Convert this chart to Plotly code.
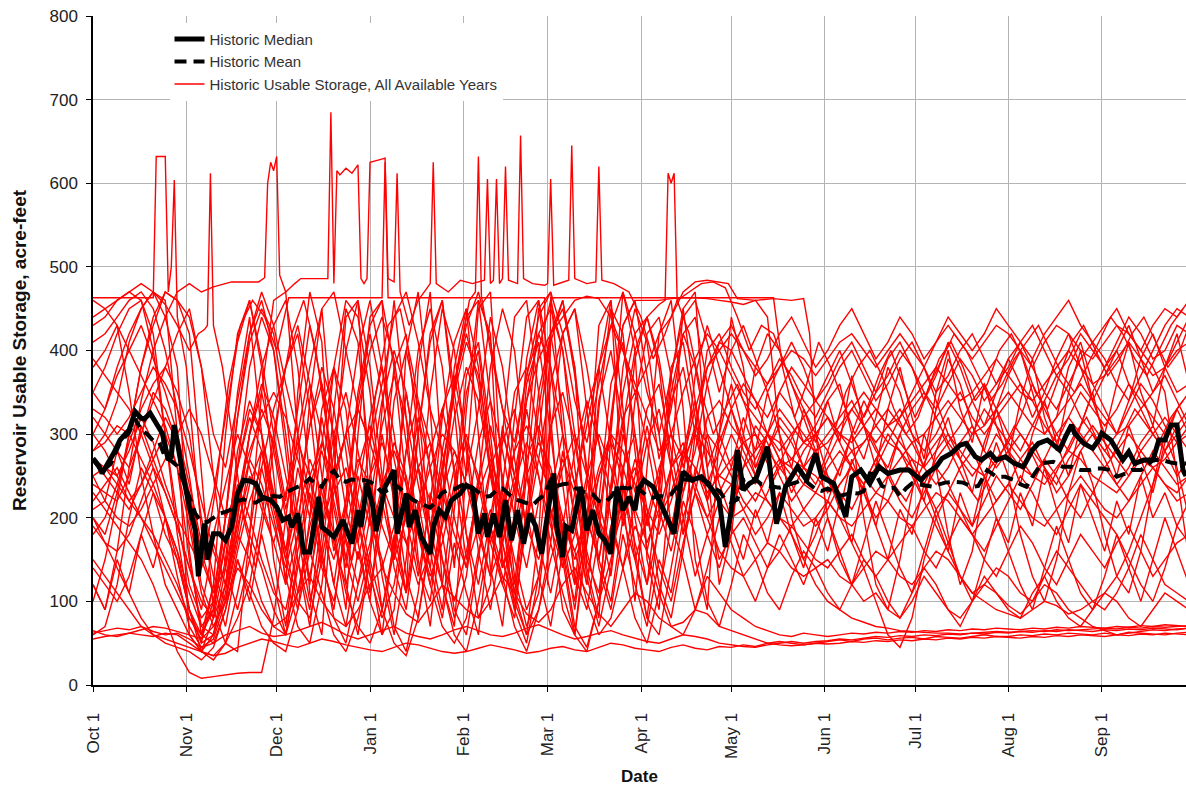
import plotly.graph_objects as go

# ---------------------------------------------------------------------------
# Axis definitions (water year, Oct 1 = day 0)
# ---------------------------------------------------------------------------
MONTH_DAYS = [0, 31, 61, 92, 123, 151, 182, 212, 243, 273, 304, 335]
MONTH_LABELS = ["Oct 1", "Nov 1", "Dec 1", "Jan 1", "Feb 1", "Mar 1",
                "Apr 1", "May 1", "Jun 1", "Jul 1", "Aug 1", "Sep 1"]

# Regular sampling used by most of the yearly traces (every 4th day)
STEP_DAYS = list(range(0, 365, 4))

# ---------------------------------------------------------------------------
# Yearly usable storage (acre-feet), sampled on STEP_DAYS
# ---------------------------------------------------------------------------
YEAR_01 = [280, 300, 340, 410, 450, 470, 440, 380,
           160, 60, 120, 300, 420, 460, 380, 250,
           120, 350, 470, 410, 180, 90, 300,
           440, 460, 200, 110, 380, 470, 260, 140,
           330, 460, 420, 150, 90, 280, 450,
           470, 300, 120, 240, 430, 460, 220, 100,
           260, 420, 460, 330, 150, 90, 300,
           440, 380, 260, 300, 350, 330, 290, 310,
           340, 360, 300, 270, 320, 380, 350,
           300, 260, 330, 390, 360, 310, 280, 330,
           370, 400, 350, 300, 320, 380, 410, 360,
           330, 300, 340, 390, 420, 380, 350, 360]
YEAR_02 = [200, 180, 230, 300, 380, 430, 470, 460,
           420, 250, 90, 50, 40, 180, 350, 460,
           470, 300, 110, 60, 250, 440, 460,
           200, 90, 160, 400, 470, 330, 120, 70,
           260, 450, 470, 230, 110, 60, 180,
           410, 460, 380, 140, 80, 300, 470, 400,
           150, 90, 260, 450, 470, 260, 120,
           180, 300, 380, 420, 400, 360, 330, 300,
           280, 250, 300, 340, 310, 290, 320,
           350, 380, 340, 300, 270, 300, 330, 310,
           290, 320, 360, 330, 300, 280, 310, 350,
           380, 400, 360, 330, 300, 280, 310, 330]
YEAR_03 = [60, 70, 120, 200, 260, 230, 180, 150,
           90, 40, 30, 50, 110, 180, 140, 90,
           60, 140, 230, 160, 80, 50, 120,
           200, 150, 70, 40, 110, 230, 180, 90,
           60, 150, 260, 200, 90, 50, 130,
           210, 160, 70, 45, 100, 190, 240, 150,
           80, 60, 140, 220, 180, 100, 70,
           120, 180, 150, 110, 90, 130, 160, 140,
           110, 90, 120, 150, 130, 100, 80,
           110, 140, 120, 90, 70, 100, 130, 110,
           90, 80, 110, 130, 100, 80, 70, 90,
           110, 100, 80, 70, 90, 110, 100, 90]
YEAR_04 = [55, 58, 60, 62, 60, 58, 62, 60,
           50, 40, 35, 38, 45, 50, 55, 52,
           48, 45, 50, 55, 52, 48, 45,
           42, 40, 45, 50, 48, 44, 40, 38,
           40, 44, 48, 45, 42, 38, 40,
           44, 46, 42, 40, 45, 50, 48, 44,
           42, 40, 45, 48, 44, 42, 46,
           45, 48, 46, 50, 52, 50, 48, 50,
           52, 54, 52, 55, 56, 54, 56,
           57, 55, 58, 57, 56, 58, 60, 58,
           58, 60, 59, 61, 60, 62, 61, 60,
           62, 60, 63, 62, 61, 60, 62, 63]
YEAR_05 = [62, 65, 68, 66, 70, 64, 60, 62,
           55, 45, 50, 60, 65, 70, 62, 58,
           60, 65, 70, 75, 68, 60, 55,
           60, 65, 70, 62, 58, 55, 60, 66,
           70, 65, 60, 58, 62, 68, 72,
           66, 60, 55, 58, 62, 65, 60, 56,
           52, 50, 55, 60, 58, 55, 50,
           48, 46, 45, 48, 50, 52, 50, 52,
           53, 55, 54, 56, 58, 57, 59,
           58, 60, 59, 61, 60, 62, 61, 63,
           62, 64, 63, 65, 64, 66, 65, 64,
           66, 65, 67, 66, 68, 67, 66, 68]
YEAR_06 = [320, 300, 280, 260, 300, 350, 330, 290,
           200, 120, 80, 150, 280, 340, 300, 220,
           150, 90, 200, 330, 380, 280, 170,
           100, 240, 380, 420, 300, 160, 90, 210,
           350, 400, 280, 140, 200, 360, 410,
           300, 180, 90, 200, 340, 400, 310, 200,
           120, 240, 380, 410, 320, 220, 260,
           300, 270, 240, 280, 320, 300, 260, 240,
           270, 300, 330, 310, 280, 260, 300,
           330, 350, 320, 290, 310, 340, 360, 330,
           300, 280, 310, 340, 370, 350, 320, 300,
           280, 300, 330, 360, 340, 310, 290, 300]
YEAR_07 = [430, 440, 460, 470, 460, 420, 300, 180,
           90, 50, 60, 140, 260, 380, 440, 400,
           280, 150, 70, 180, 330, 450, 410,
           260, 130, 60, 150, 300, 420, 460, 330,
           180, 80, 120, 300, 440, 460, 350,
           200, 90, 60, 170, 330, 450, 420, 280,
           160, 230, 350, 420, 380, 300, 240,
           200, 260, 310, 290, 250, 220, 240, 270,
           250, 230, 210, 240, 270, 250, 220,
           200, 230, 260, 240, 210, 190, 220, 250,
           230, 210, 240, 270, 250, 220, 200, 230,
           260, 240, 220, 250, 280, 260, 240, 250]
YEAR_08 = [250, 260, 240, 220, 200, 180, 150, 120,
           80, 60, 50, 90, 160, 220, 260, 200,
           130, 70, 50, 120, 250, 300, 220,
           140, 60, 90, 220, 320, 260, 150, 80,
           130, 240, 310, 250, 130, 70, 110,
           230, 300, 240, 130, 70, 140, 260, 300,
           210, 120, 80, 160, 260, 220, 150,
           180, 200, 170, 140, 160, 190, 170, 150,
           140, 160, 180, 150, 130, 150, 170,
           190, 160, 140, 170, 200, 180, 150, 130,
           160, 190, 170, 140, 120, 150, 180, 160,
           140, 170, 190, 160, 130, 150, 170, 180]
YEAR_09 = [410, 420, 440, 460, 470, 450, 400, 330,
           250, 150, 110, 200, 320, 410, 450, 420,
           330, 200, 120, 240, 380, 460, 440,
           350, 220, 150, 280, 400, 450, 380, 250,
           150, 240, 380, 450, 400, 260, 160,
           300, 420, 450, 330, 200, 130, 250, 390,
           440, 380, 260, 180, 300, 400, 420,
           380, 350, 330, 360, 390, 370, 340, 320,
           350, 380, 400, 370, 340, 360, 390,
           410, 380, 350, 370, 400, 420, 390, 360,
           380, 410, 430, 400, 370, 390, 420, 400,
           380, 410, 440, 420, 390, 400, 430, 420]
YEAR_10 = [230, 210, 190, 170, 150, 120, 80, 40,
           15, 8, 10, 12, 14, 15, 15, 80,
           200, 300, 220, 140, 100, 180, 260,
           310, 240, 160, 110, 190, 280, 330, 260,
           180, 120, 200, 290, 330, 250, 170,
           110, 190, 280, 340, 290, 200, 140, 220,
           290, 330, 260, 180, 230, 300, 280,
           250, 220, 200, 230, 260, 240, 210, 190,
           210, 240, 260, 230, 200, 220, 250,
           270, 240, 210, 230, 260, 280, 250, 220,
           240, 270, 290, 260, 230, 250, 280, 300,
           270, 240, 260, 290, 310, 280, 250, 270]
YEAR_11 = [180, 200, 240, 290, 330, 360, 380, 350,
           300, 200, 130, 100, 180, 270, 330, 290,
           210, 280, 360, 300, 210, 140, 230,
           320, 380, 300, 200, 130, 220, 330, 370,
           290, 190, 130, 240, 350, 380, 300,
           210, 140, 230, 330, 380, 290, 190, 250,
           330, 360, 280, 200, 250, 320, 340,
           310, 290, 270, 300, 330, 310, 290, 280,
           300, 320, 340, 310, 290, 310, 330,
           300, 280, 300, 330, 350, 320, 300, 320,
           340, 360, 340, 310, 290, 320, 350, 330,
           310, 330, 360, 340, 320, 300, 330, 350]
YEAR_12 = [300, 280, 250, 220, 240, 270, 300, 260,
           150, 70, 60, 110, 220, 300, 350, 280,
           200, 110, 170, 290, 380, 330, 200,
           110, 200, 340, 400, 330, 190, 120, 230,
           370, 410, 300, 170, 110, 210, 350,
           420, 330, 190, 120, 220, 360, 410, 300,
           190, 250, 340, 380, 300, 240, 280,
           330, 360, 340, 300, 270, 250, 280, 300,
           320, 290, 260, 240, 270, 300, 280,
           250, 220, 190, 160, 130, 110, 100, 90,
           85, 80, 90, 100, 95, 85, 90, 100,
           110, 130, 160, 200, 240, 280, 300, 320]
YEAR_13 = [100, 150, 220, 300, 380, 440, 470, 460,
           440, 380, 250, 140, 90, 150, 260, 330,
           380, 420, 330, 200, 120, 220, 350,
           430, 460, 380, 240, 140, 100, 220, 360,
           440, 460, 340, 200, 120, 250, 400,
           460, 400, 260, 150, 110, 230, 380, 450,
           410, 300, 190, 250, 370, 430, 380,
           330, 290, 260, 280, 310, 290, 260, 250,
           230, 260, 280, 250, 230, 250, 270,
           290, 260, 240, 260, 290, 310, 280, 260,
           280, 300, 280, 260, 240, 270, 290, 310,
           290, 270, 250, 280, 300, 320, 300, 280]
YEAR_14 = [390, 370, 350, 330, 300, 260, 200, 130,
           70, 45, 55, 100, 200, 300, 380, 430,
           460, 380, 250, 150, 90, 200, 340,
           420, 350, 230, 130, 80, 180, 320, 410,
           450, 380, 260, 150, 100, 190, 330,
           420, 450, 380, 250, 150, 100, 200, 340,
           420, 440, 370, 260, 310, 380, 400,
           420, 400, 380, 360, 380, 400, 390, 370,
           390, 410, 420, 400, 380, 400, 420,
           400, 380, 410, 430, 410, 390, 410, 430,
           420, 400, 380, 410, 430, 420, 400, 390,
           410, 430, 420, 400, 380, 350, 250, 150]
YEAR_15 = [150, 130, 110, 90, 70, 60, 55, 50,
           45, 40, 60, 120, 180, 150, 100, 70,
           60, 110, 190, 240, 180, 110, 70,
           50, 90, 170, 230, 190, 120, 70, 50,
           80, 160, 210, 170, 100, 60, 90,
           150, 200, 160, 100, 60, 80, 140, 190,
           160, 110, 70, 60, 90, 130, 110,
           90, 80, 70, 65, 60, 58, 62, 60,
           58, 60, 62, 61, 63, 62, 64,
           63, 65, 64, 66, 65, 67, 66, 68,
           67, 66, 68, 67, 69, 68, 70, 69,
           68, 70, 69, 71, 70, 72, 71, 70]
YEAR_16 = [270, 260, 250, 280, 320, 290, 240, 200,
           170, 140, 180, 240, 300, 260, 210, 170,
           230, 290, 250, 190, 150, 210, 270,
           240, 190, 150, 200, 260, 290, 230, 180,
           140, 190, 260, 300, 250, 190, 150,
           200, 260, 300, 250, 200, 160, 210, 270,
           240, 200, 230, 280, 260, 230, 250,
           270, 290, 300, 280, 260, 270, 290, 300,
           320, 300, 280, 290, 310, 330, 310,
           290, 300, 320, 340, 320, 300, 310, 330,
           350, 330, 310, 300, 320, 340, 360, 340,
           320, 300, 310, 330, 350, 370, 340, 310]
YEAR_17 = [350, 380, 420, 450, 460, 400, 300, 200,
           120, 80, 100, 200, 320, 420, 460, 400,
           300, 180, 100, 160, 280, 400, 460,
           380, 250, 140, 90, 200, 350, 450, 400,
           280, 160, 90, 180, 320, 440, 460,
           380, 240, 130, 90, 180, 320, 430, 460,
           460, 460, 462, 463, 463, 462, 460,
           458, 455, 460, 440, 300, 200, 150, 180,
           220, 260, 300, 200, 120, 90, 150,
           230, 300, 260, 180, 120, 160, 240, 290,
           250, 180, 130, 100, 150, 230, 280, 240,
           180, 130, 110, 160, 240, 300, 260, 200]
YEAR_18 = [210, 220, 200, 190, 210, 240, 270, 300,
           330, 300, 250, 200, 230, 280, 320, 350,
           320, 270, 220, 190, 240, 300, 330,
           290, 240, 200, 170, 210, 260, 300, 280,
           240, 200, 170, 220, 280, 310, 270,
           230, 190, 160, 200, 260, 300, 280, 240,
           210, 180, 220, 270, 300, 280, 250,
           240, 260, 280, 300, 290, 270, 260, 280,
           290, 310, 330, 350, 330, 310, 320,
           340, 360, 380, 360, 340, 350, 370, 390,
           370, 350, 340, 360, 380, 400, 380, 360,
           370, 390, 410, 390, 370, 380, 400, 410]
YEAR_19 = [330, 320, 300, 320, 350, 380, 360, 330,
           280, 220, 160, 120, 200, 300, 360, 320,
           250, 180, 130, 210, 300, 350, 280,
           200, 140, 190, 280, 340, 290, 210, 150,
           200, 290, 340, 280, 200, 140, 220,
           310, 350, 290, 200, 150, 230, 320, 350,
           290, 210, 160, 230, 310, 290, 220,
           200, 210, 230, 220, 200, 190, 210, 230,
           220, 200, 190, 210, 230, 220, 200,
           190, 210, 230, 220, 200, 180, 200, 220,
           240, 220, 200, 190, 210, 230, 250, 230,
           210, 200, 220, 240, 260, 240, 220, 230]
YEAR_20 = [240, 230, 220, 250, 300, 340, 310, 260,
           190, 110, 70, 100, 170, 240, 280, 230,
           160, 100, 80, 150, 230, 260, 200,
           130, 80, 120, 210, 260, 220, 150, 100,
           160, 230, 270, 220, 150, 90, 130,
           220, 270, 230, 160, 100, 150, 230, 260,
           200, 140, 100, 170, 230, 200, 160,
           140, 130, 150, 170, 160, 140, 130, 140,
           150, 130, 120, 140, 160, 150, 130,
           120, 140, 160, 150, 130, 110, 120, 140,
           130, 110, 100, 120, 110, 90, 80, 70,
           65, 60, 62, 64, 66, 65, 67, 68]
YEAR_21 = [440, 450, 460, 470, 480, 470, 460, 300,
           60, 40, 35, 50, 80, 120, 200, 300,
           380, 430, 360, 250, 160, 220, 330,
           400, 440, 390, 290, 190, 140, 250, 360,
           420, 360, 250, 170, 230, 340, 420,
           450, 400, 300, 200, 150, 240, 350, 420,
           440, 390, 300, 230, 280, 360, 410,
           400, 370, 340, 320, 350, 380, 360, 340,
           360, 390, 410, 380, 350, 370, 400,
           380, 350, 330, 360, 390, 370, 340, 360,
           390, 410, 380, 350, 330, 360, 390, 410,
           390, 360, 340, 370, 400, 430, 450, 440]
YEAR_22 = [190, 170, 160, 180, 220, 260, 230, 190,
           140, 100, 80, 120, 190, 250, 220, 170,
           120, 180, 250, 290, 240, 170, 120,
           170, 240, 280, 240, 180, 130, 170, 240,
           290, 250, 190, 140, 180, 250, 290,
           260, 200, 150, 190, 250, 290, 260, 210,
           170, 210, 260, 280, 240, 200, 230,
           260, 240, 220, 250, 270, 260, 240, 230,
           260, 280, 260, 240, 260, 290, 280,
           260, 240, 270, 290, 270, 250, 270, 300,
           280, 260, 250, 270, 300, 320, 300, 280,
           260, 280, 300, 280, 260, 270, 290, 310]
YEAR_23 = [280, 290, 310, 300, 270, 240, 200, 160,
           110, 70, 90, 170, 260, 320, 280, 210,
           150, 220, 310, 360, 300, 210, 150,
           220, 310, 370, 320, 240, 170, 230, 320,
           380, 340, 260, 190, 250, 340, 390,
           420, 440, 460, 465, 462, 440, 400, 360,
           320, 280, 300, 350, 390, 420, 400,
           370, 340, 320, 300, 280, 300, 320, 340,
           320, 300, 290, 310, 330, 310, 290,
           270, 260, 280, 300, 280, 260, 250, 270,
           290, 270, 250, 240, 260, 280, 270, 250,
           240, 230, 250, 270, 260, 240, 230, 250]
YEAR_24 = [65, 60, 58, 62, 66, 70, 68, 64,
           60, 55, 70, 100, 140, 120, 90, 70,
           80, 110, 130, 100, 80, 70, 90,
           120, 140, 110, 85, 75, 95, 120, 105,
           90, 80, 100, 130, 110, 85, 75,
           90, 120, 140, 110, 85, 70, 90, 110,
           100, 80, 70, 75, 90, 85, 70,
           65, 60, 55, 50, 48, 47, 48, 50,
           49, 50, 52, 51, 53, 52, 54,
           53, 55, 54, 56, 55, 57, 56, 58,
           57, 56, 58, 57, 59, 58, 60, 59,
           58, 60, 59, 61, 60, 62, 61, 60]
YEAR_25 = [120, 90, 150, 110, 180, 140, 200, 160,
           90, 50, 120, 70, 150, 100, 180, 120,
           60, 150, 90, 200, 120, 70, 160,
           100, 60, 180, 110, 220, 140, 80, 170,
           110, 60, 190, 120, 80, 210, 130,
           70, 160, 100, 230, 140, 90, 180, 120,
           70, 150, 110, 200, 130, 180, 140,
           190, 150, 210, 170, 230, 180, 140, 200,
           160, 220, 170, 240, 190, 150, 210,
           180, 240, 200, 160, 230, 190, 250, 200,
           170, 230, 190, 260, 210, 170, 240, 200,
           160, 220, 180, 250, 200, 230, 190, 170]
YEAR_26 = [250, 220, 280, 240, 310, 270, 230, 190,
           140, 90, 170, 120, 230, 180, 280, 220,
           160, 260, 200, 320, 240, 150, 250,
           190, 300, 220, 350, 260, 170, 280, 200,
           140, 250, 180, 310, 230, 330, 250,
           170, 280, 200, 120, 220, 160, 300, 230,
           310, 240, 180, 280, 340, 260, 300,
           260, 320, 280, 350, 300, 260, 330, 290,
           340, 290, 370, 310, 260, 330, 380,
           320, 270, 350, 400, 330, 290, 360, 310,
           270, 340, 390, 320, 280, 350, 400, 340,
           300, 360, 410, 350, 310, 380, 420, 360]
YEAR_27 = [380, 400, 430, 350, 250, 180, 120, 90,
           60, 40, 80, 200, 350, 440, 300, 150,
           70, 180, 340, 450, 280, 120, 60,
           150, 330, 460, 320, 150, 70, 200, 380,
           450, 300, 140, 70, 210, 390, 460,
           320, 150, 60, 190, 380, 460, 330, 160,
           80, 200, 370, 450, 340, 220, 300,
           360, 300, 250, 220, 200, 180, 150, 120,
           100, 90, 80, 75, 70, 68, 65,
           64, 63, 62, 62, 61, 62, 63, 64,
           63, 64, 65, 64, 66, 65, 66, 67,
           68, 67, 69, 68, 70, 69, 70, 71]
YEAR_28 = [350, 330, 370, 400, 430, 390, 350, 300,
           240, 170, 230, 320, 410, 460, 390, 300,
           220, 330, 430, 360, 250, 300, 400,
           460, 380, 270, 200, 300, 410, 460, 350,
           250, 330, 440, 380, 270, 190, 300,
           420, 460, 370, 260, 200, 310, 430, 460,
           370, 270, 330, 420, 440, 360, 290,
           330, 280, 250, 300, 270, 230, 260, 300,
           250, 210, 270, 230, 190, 250, 300,
           260, 220, 280, 320, 270, 230, 290, 330,
           280, 240, 300, 340, 290, 250, 310, 350,
           290, 250, 310, 270, 230, 290, 330, 300]
YEAR_29 = [200, 170, 140, 110, 80, 60, 50, 45,
           40, 30, 45, 90, 150, 110, 70, 50,
           40, 90, 160, 110, 60, 40, 80,
           150, 90, 50, 35, 80, 170, 120, 60,
           40, 100, 180, 130, 70, 40, 90,
           170, 110, 60, 40, 100, 190, 140, 80,
           50, 110, 190, 150, 90, 140, 200,
           170, 130, 100, 140, 180, 150, 120, 160,
           200, 160, 120, 170, 220, 180, 140,
           110, 160, 210, 170, 130, 100, 150, 200,
           160, 120, 90, 140, 190, 150, 110, 90,
           130, 180, 140, 100, 150, 200, 160, 120]
YEAR_30 = [460, 450, 430, 400, 370, 340, 380, 420,
           450, 380, 300, 260, 340, 420, 470, 430,
           360, 300, 380, 450, 470, 400, 330,
           290, 360, 440, 470, 410, 330, 280, 360,
           430, 470, 410, 330, 290, 370, 440,
           470, 420, 340, 290, 360, 430, 470, 420,
           350, 300, 370, 440, 460, 410, 350,
           400, 430, 390, 350, 380, 410, 380, 340,
           370, 400, 360, 320, 350, 390, 410,
           380, 340, 370, 410, 380, 340, 310, 350,
           390, 360, 320, 350, 390, 420, 380, 340,
           370, 400, 430, 390, 350, 380, 410, 440]
YEAR_31 = [220, 240, 260, 230, 200, 170, 140, 110,
           80, 55, 100, 170, 240, 200, 150, 110,
           90, 160, 240, 280, 220, 150, 100,
           160, 230, 290, 250, 180, 120, 190, 260,
           300, 240, 170, 120, 190, 270, 310,
           250, 180, 120, 170, 250, 300, 240, 170,
           120, 190, 260, 290, 230, 180, 220,
           240, 210, 180, 200, 230, 210, 190, 200,
           220, 200, 170, 140, 100, 60, 45,
           80, 150, 200, 230, 210, 180, 160, 190,
           220, 250, 230, 200, 180, 210, 240, 220,
           200, 180, 150, 120, 100, 140, 190, 220]
YEAR_32 = [270, 250, 230, 210, 240, 280, 320, 290,
           230, 160, 110, 140, 210, 270, 240, 190,
           140, 200, 270, 230, 170, 120, 180,
           250, 290, 240, 170, 120, 160, 230, 280,
           240, 180, 130, 170, 240, 290, 250,
           190, 140, 180, 250, 300, 260, 200, 150,
           200, 260, 300, 270, 330, 380, 410,
           430, 400, 370, 390, 420, 440, 410, 380,
           400, 430, 450, 420, 390, 410, 440,
           420, 390, 410, 440, 420, 400, 420, 450,
           430, 410, 390, 420, 440, 460, 430, 410,
           430, 450, 420, 400, 430, 450, 440, 460]

# ---------------------------------------------------------------------------
# Wet years recorded on irregular days (flood spikes above full pool)
# ---------------------------------------------------------------------------
WET_A_DAYS = [0, 20, 21, 24, 25, 26, 27, 28, 31, 34, 37, 41, 45, 49, 53, 57,
              61, 65, 96, 97, 98, 150, 151, 152, 226, 229, 233, 237, 241, 245,
              249, 253, 257, 261, 265, 269, 273, 277, 281, 285, 289, 293, 297,
              301, 305, 309, 313, 317, 321, 325, 329, 333, 337, 341, 345, 349,
              353, 357, 361, 364]
WET_A_VALS = [463, 463, 632, 632, 470, 500, 604, 440, 380, 260, 150, 240, 360,
              430, 460, 440, 400, 463, 463, 625, 463, 463, 120, 463, 463, 380,
              320, 360, 410, 380, 340, 300, 330, 370, 400, 360, 320, 350, 390,
              410, 380, 340, 360, 400, 420, 390, 350, 330, 370, 410, 430, 400,
              370, 390, 420, 440, 410, 380, 400, 430]

WET_B_DAYS = [0, 4, 8, 12, 16, 20, 24, 28, 32, 36, 40, 44, 46, 55, 57, 58, 59,
              60, 61, 62, 64, 67, 69, 78, 79, 80, 81, 82, 84, 86, 88, 89, 90,
              91, 92, 95, 97, 98, 100, 101, 102, 105, 108, 112, 113, 114, 118,
              122, 126, 130, 131, 132, 133, 134, 135, 136, 137, 138, 141, 142,
              143, 146, 150, 151, 152, 153, 156, 158, 159, 160, 164, 167, 168,
              169, 173, 178, 182, 186, 190, 194, 198, 202, 206, 210, 214, 218,
              222, 226, 230, 234, 238, 242, 246, 250, 254, 258, 262, 266, 270,
              274, 278, 282, 286, 290, 294, 298, 302, 306, 310, 314, 318, 322,
              326, 330, 334, 338, 342, 346, 350, 354, 358, 362]
WET_B_VALS = [120, 90, 160, 260, 340, 400, 440, 470, 480, 470, 476, 480, 482,
              482, 487, 600, 625, 615, 632, 490, 470, 480, 486, 486, 685, 480,
              615, 610, 618, 612, 622, 486, 480, 486, 625, 628, 630, 486, 482,
              612, 470, 430, 460, 480, 625, 480, 470, 484, 480, 484, 605, 480,
              484, 605, 480, 486, 620, 484, 480, 657, 486, 480, 478, 480, 605,
              478, 482, 484, 645, 486, 480, 482, 620, 484, 480, 470, 440, 390,
              420, 460, 470, 480, 482, 475, 440, 400, 430, 420, 380, 340, 300,
              260, 300, 350, 380, 400, 370, 330, 300, 320, 360, 390, 420, 400,
              370, 340, 360, 390, 410, 430, 400, 370, 350, 380, 410, 440, 420,
              390, 370, 400, 430, 450]

WET_C_DAYS = [0, 4, 8, 12, 16, 20, 24, 28, 32, 35, 37, 38, 39, 40, 43, 46, 50,
              54, 58, 62, 66, 70, 74, 78, 82, 86, 90, 94, 98, 102, 106, 110,
              114, 118, 122, 125, 127, 128, 129, 132, 136, 140, 144, 148, 152,
              156, 160, 164, 168, 172, 176, 180, 184, 188, 190, 191, 192, 193,
              194, 198, 202, 206, 210, 214, 218, 222, 226, 230, 234, 238, 242,
              246, 250, 254, 258, 262, 266, 270, 274, 278, 282, 286, 290, 294,
              298, 302, 306, 310, 314, 318, 322, 326, 330, 334, 338, 342, 346,
              350, 354, 358, 362]
WET_C_VALS = [300, 330, 380, 420, 450, 470, 455, 430, 400, 420, 425, 430, 612,
              430, 380, 300, 200, 140, 230, 340, 420, 460, 400, 300, 200, 150,
              240, 350, 430, 450, 380, 300, 220, 300, 400, 460, 470, 632, 465,
              400, 330, 250, 190, 270, 360, 420, 450, 380, 290, 230, 310, 400,
              440, 455, 460, 612, 600, 612, 460, 420, 350, 300, 330, 360, 320,
              280, 250, 280, 310, 290, 260, 230, 250, 280, 300, 270, 240, 220,
              250, 280, 300, 270, 240, 220, 250, 280, 310, 290, 260, 240, 270,
              300, 320, 290, 270, 300, 330, 310, 290, 320, 340]

WET_D_DAYS = [0, 4, 8, 12, 16, 20, 24, 28, 32, 36, 40, 44, 48, 52, 56, 60, 64,
              68, 72, 76, 80, 84, 88, 92, 96, 100, 104, 108, 112, 116, 120,
              124, 128, 132, 136, 140, 144, 148, 152, 156, 160, 164, 168, 172,
              176, 180, 184, 188, 192, 196, 200, 204, 208, 211, 214, 220, 226,
              232, 236, 238, 240, 244, 248, 252, 256, 260, 264, 268, 272, 276,
              280, 284, 288, 292, 296, 300, 304, 308, 312, 316, 320, 324, 328,
              332, 336, 340, 344, 348, 352, 356, 360, 364]
WET_D_VALS = [140, 120, 100, 130, 180, 230, 200, 150, 90, 60, 90, 170, 260,
              330, 300, 230, 160, 220, 310, 380, 330, 240, 170, 250, 340, 400,
              350, 260, 190, 260, 350, 410, 370, 280, 210, 280, 370, 420, 380,
              300, 240, 310, 380, 430, 400, 350, 380, 420, 440, 470, 482, 484,
              482, 480, 462, 460, 462, 460, 462, 420, 300, 200, 150, 120, 100,
              110, 90, 80, 100, 130, 110, 90, 80, 100, 120, 110, 95, 85, 100,
              130, 160, 140, 120, 100, 90, 110, 140, 180, 150, 120, 110, 100]

# ---------------------------------------------------------------------------
# Historic median and mean of usable storage
# ---------------------------------------------------------------------------
MEDIAN_DAYS = [0, 2, 3, 5, 7, 9, 12, 14, 16, 17, 19, 21, 23, 25, 26, 27, 28,
               29, 30, 32, 34, 35, 37, 38, 40, 42, 44, 46, 48, 50, 52, 54, 56,
               59, 61, 63, 65, 66, 68, 70, 72, 75, 76, 80, 83, 86, 88, 89, 91,
               93, 94, 97, 100, 101, 104, 105, 107, 109, 112, 113, 115, 117,
               119, 122, 124, 126, 128, 130, 131, 133, 135, 137, 139, 141, 143,
               145, 147, 149, 151, 153, 154, 156, 157, 159, 162, 164, 166, 168,
               170, 172, 174, 176, 178, 180, 181, 183, 186, 189, 193, 195, 196,
               199, 202, 205, 208, 210, 212, 214, 216, 218, 220, 224, 227, 230,
               234, 237, 240, 242, 246, 250, 252, 255, 258, 261, 264, 268, 271,
               275, 277, 280, 282, 285, 288, 290, 293, 295, 298, 300, 303, 306,
               309, 312, 314, 317, 319, 321, 323, 325, 326, 329, 332, 334, 335,
               338, 340, 342, 344, 346, 349, 352, 354, 356, 358, 360, 362, 363]
MEDIAN_VALS = [271, 262, 253, 265, 278, 293, 305, 327, 319, 318, 325, 313, 301,
               269, 273, 311, 290, 265, 249, 213, 185, 130, 193, 150, 181, 181,
               173, 189, 229, 245, 244, 241, 225, 221, 213, 197, 201, 189, 205,
               159, 159, 225, 189, 177, 197, 169, 209, 189, 241, 213, 184, 237,
               257, 181, 229, 189, 209, 177, 157, 189, 209, 201, 221, 229, 239,
               235, 181, 205, 177, 205, 177, 221, 173, 209, 169, 205, 190, 157,
               205, 253, 190, 153, 190, 185, 237, 185, 209, 181, 173, 157, 237,
               209, 225, 209, 233, 245, 237, 213, 181, 237, 255, 245, 249, 237,
               221, 165, 209, 281, 233, 241, 245, 285, 193, 237, 261, 245, 277,
               249, 241, 201, 249, 257, 241, 261, 253, 257, 257, 245, 253, 261,
               271, 277, 287, 289, 273, 269, 277, 269, 273, 265, 261, 281, 289,
               293, 287, 281, 297, 311, 301, 289, 283, 293, 301, 293, 281, 269,
               279, 265, 269, 269, 293, 293, 311, 311, 257, 250]

MEAN_DAYS = [0, 3, 6, 9, 12, 14, 16, 18, 20, 22, 24, 26, 28, 30, 32, 34, 36,
             38, 40, 42, 44, 46, 48, 50, 52, 54, 56, 58, 60, 62, 64, 66, 68, 70,
             72, 74, 76, 78, 80, 82, 84, 86, 88, 90, 92, 94, 96, 98, 100, 102,
             104, 106, 108, 110, 112, 114, 116, 118, 120, 122, 124, 126, 128,
             130, 132, 134, 136, 138, 140, 142, 144, 146, 148, 150, 152, 154,
             156, 158, 160, 162, 164, 166, 168, 170, 172, 174, 176, 178, 180,
             182, 184, 186, 188, 190, 192, 194, 196, 198, 200, 202, 204, 206,
             208, 210, 212, 214, 216, 218, 220, 222, 224, 226, 228, 230, 232,
             234, 236, 238, 240, 242, 244, 246, 248, 250, 252, 254, 256, 258,
             260, 262, 264, 266, 268, 270, 272, 274, 277, 279, 281, 283, 286,
             289, 292, 294, 297, 300, 303, 306, 308, 310, 312, 315, 317, 319,
             322, 325, 328, 331, 333, 335, 338, 340, 343, 345, 348, 350, 352,
             355, 358, 360, 363]
MEAN_VALS = [270, 255, 265, 290, 302, 318, 305, 300, 292, 290, 272, 268, 262,
             245, 225, 205, 195, 195, 200, 205, 207, 210, 220, 222, 219, 218,
             222, 225, 226, 225, 230, 234, 237, 240, 247, 240, 237, 250, 256,
             245, 243, 246, 244, 245, 243, 238, 230, 233, 240, 235, 228, 222,
             218, 215, 212, 220, 230, 233, 234, 238, 241, 236, 230, 225, 226,
             233, 235, 228, 222, 220, 218, 215, 222, 228, 245, 238, 240, 241,
             236, 232, 230, 228, 220, 218, 225, 235, 236, 235, 240, 232, 226,
             224, 226, 225, 228, 238, 246, 245, 244, 246, 243, 236, 232, 222,
             218, 222, 245, 247, 246, 240, 238, 237, 236, 238, 240, 243, 246,
             240, 234, 232, 235, 230, 226, 228, 230, 229, 232, 253, 252, 238,
             235, 236, 226, 235, 241, 240, 238, 237, 240, 242, 243, 242, 237,
             238, 257, 249, 249, 245, 240, 237, 249, 265, 266, 267, 261, 261,
             257, 257, 259, 259, 257, 249, 253, 257, 257, 262, 269, 269, 266,
             265, 265]

RED = "#ff0000"
FONT = "Liberation Sans, Arial, sans-serif"

fig = go.Figure()

step_years = [YEAR_01, YEAR_02, YEAR_03, YEAR_04, YEAR_05, YEAR_06, YEAR_07,
              YEAR_08, YEAR_09, YEAR_10, YEAR_11, YEAR_12, YEAR_13, YEAR_14,
              YEAR_15, YEAR_16, YEAR_17, YEAR_18, YEAR_19, YEAR_20, YEAR_21,
              YEAR_22, YEAR_23, YEAR_24, YEAR_25, YEAR_26, YEAR_27, YEAR_28,
              YEAR_29, YEAR_30, YEAR_31, YEAR_32]
irregular_years = [(WET_A_DAYS, WET_A_VALS), (WET_B_DAYS, WET_B_VALS),
                   (WET_C_DAYS, WET_C_VALS), (WET_D_DAYS, WET_D_VALS)]

all_years = [(STEP_DAYS, v) for v in step_years] + irregular_years
for i, (days, vals) in enumerate(all_years):
    fig.add_trace(go.Scatter(
        x=days, y=vals, mode="lines",
        line=dict(color=RED, width=1.4),
        name="Historic Usable Storage, All Available Years",
        showlegend=(i == 0), legendrank=3, hoverinfo="skip"))

fig.add_trace(go.Scatter(
    x=MEAN_DAYS, y=MEAN_VALS, mode="lines",
    line=dict(color="black", width=4, dash="12px,7px"),
    name="Historic Mean", legendrank=2))
fig.add_trace(go.Scatter(
    x=MEDIAN_DAYS, y=MEDIAN_VALS, mode="lines",
    line=dict(color="black", width=5),
    name="Historic Median", legendrank=1))

GRID = "#b4b4b4"
fig.update_layout(
    width=1186, height=790,
    margin=dict(l=93, r=0, t=16, b=105),
    plot_bgcolor="white", paper_bgcolor="white",
    font=dict(family=FONT, color="#222222"),
    legend=dict(x=0.07, y=0.99, xanchor="left", yanchor="top",
                bgcolor="white", borderwidth=0,
                font=dict(family=FONT, size=15, color="#333333")),
    xaxis=dict(
        range=[0, 363], tickmode="array", tickvals=MONTH_DAYS,
        ticktext=MONTH_LABELS, tickangle=-90,
        tickfont=dict(size=17, color="#222222"),
        showgrid=True, gridcolor=GRID, gridwidth=1,
        showline=True, linecolor="black", linewidth=2,
        ticks="outside", ticklen=5, tickcolor="black",
        ticklabelstandoff=14, zeroline=False,
        title=dict(text="<b>Date</b>", font=dict(size=17, color="#111111"),
                   standoff=12),
        automargin=False),
    yaxis=dict(
        range=[0, 800], tickmode="linear", tick0=0, dtick=100,
        tickfont=dict(size=17, color="#222222"),
        showgrid=True, gridcolor=GRID, gridwidth=1,
        showline=True, linecolor="black", linewidth=1.5,
        ticks="outside", ticklen=5, tickcolor="black",
        ticklabelstandoff=5, zeroline=False,
        title=dict(text="<b>Reservoir Usable Storage, acre-feet</b>",
                   font=dict(size=19, color="#111111"), standoff=18),
        automargin=False),
    xaxis2=dict(
        overlaying="x", anchor="y", side="bottom", range=[0, 363],
        tickmode="array", tickvals=MONTH_DAYS, showticklabels=False,
        ticks="inside", ticklen=5, tickcolor="black",
        showgrid=False, showline=False, zeroline=False),
    yaxis2=dict(
        overlaying="y", anchor="x", side="left", range=[0, 800],
        tickmode="linear", tick0=0, dtick=100, showticklabels=False,
        ticks="inside", ticklen=5, tickcolor="black",
        showgrid=False, showline=False, zeroline=False),
)

fig.write_html("out.html")
